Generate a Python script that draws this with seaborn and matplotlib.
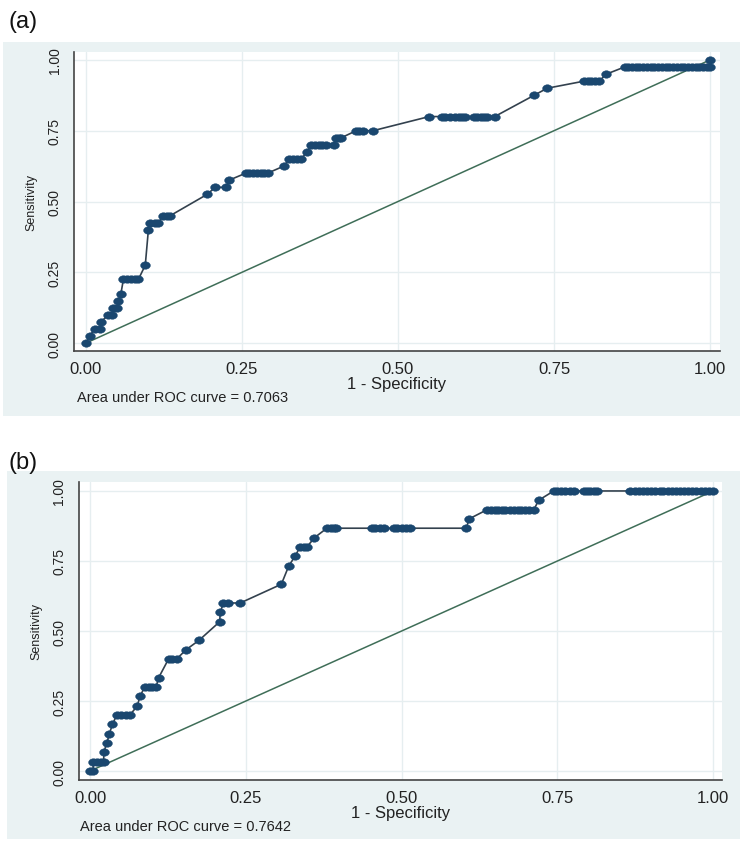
import matplotlib
matplotlib.use("Agg")
import matplotlib.pyplot as plt
from matplotlib.patches import Rectangle
from matplotlib.path import Path
from matplotlib.transforms import Affine2D
import seaborn as sns
import pandas as pd

# ROC points (1 - specificity, sensitivity)
fpr_a = [0.000, 0.006, 0.014, 0.022, 0.024, 0.036, 0.042, 0.044, 0.050, 0.052,
         0.056, 0.060, 0.066, 0.072, 0.078, 0.084, 0.095, 0.100, 0.102, 0.110,
         0.116, 0.124, 0.130, 0.135, 0.194, 0.207, 0.225, 0.229, 0.256, 0.262,
         0.268, 0.274, 0.280, 0.286, 0.291, 0.317, 0.326, 0.332, 0.338, 0.345,
         0.354, 0.361, 0.367, 0.373, 0.379, 0.385, 0.397, 0.401, 0.405, 0.409,
         0.433, 0.438, 0.444, 0.460, 0.550, 0.570, 0.576, 0.583, 0.591, 0.597,
         0.602, 0.607, 0.621, 0.627, 0.633, 0.638, 0.643, 0.655, 0.718, 0.739,
         0.798, 0.804, 0.810, 0.816, 0.822, 0.834,
         0.863, 0.869, 0.875, 0.881, 0.887, 0.893, 0.899, 0.905, 0.911, 0.917,
         0.923, 0.929, 0.935, 0.941, 0.947, 0.953, 0.959, 0.965, 0.971, 0.977,
         0.983, 0.989, 0.995, 1.000, 1.000]
sens_a = [0.000, 0.025, 0.050, 0.050, 0.075, 0.100, 0.100, 0.125, 0.125, 0.150,
          0.175, 0.225, 0.225, 0.225, 0.225, 0.225, 0.275, 0.400, 0.425, 0.425,
          0.425, 0.450, 0.450, 0.450, 0.525, 0.550, 0.550, 0.575, 0.600, 0.600,
          0.600, 0.600, 0.600, 0.600, 0.600, 0.625, 0.650, 0.650, 0.650, 0.650,
          0.675, 0.700, 0.700, 0.700, 0.700, 0.700, 0.700, 0.725, 0.725, 0.725,
          0.750, 0.750, 0.750, 0.750, 0.800, 0.800, 0.800, 0.800, 0.800, 0.800,
          0.800, 0.800, 0.800, 0.800, 0.800, 0.800, 0.800, 0.800, 0.875, 0.900,
          0.925, 0.925, 0.925, 0.925, 0.925, 0.950,
          0.975, 0.975, 0.975, 0.975, 0.975, 0.975, 0.975, 0.975, 0.975, 0.975,
          0.975, 0.975, 0.975, 0.975, 0.975, 0.975, 0.975, 0.975, 0.975, 0.975,
          0.975, 0.975, 0.975, 0.975, 1.000]

fpr_b = [0.000, 0.005, 0.005, 0.011, 0.017, 0.022, 0.022, 0.027, 0.031, 0.036,
         0.043, 0.050, 0.057, 0.064, 0.076, 0.080, 0.088, 0.094, 0.100, 0.106,
         0.110, 0.126, 0.132, 0.139, 0.154, 0.175, 0.208, 0.209, 0.214, 0.222,
         0.241, 0.307, 0.319, 0.329, 0.337, 0.343, 0.348, 0.360, 0.380, 0.386,
         0.391, 0.395, 0.452, 0.458, 0.465, 0.471, 0.487, 0.493, 0.500, 0.507,
         0.514, 0.604, 0.608, 0.637, 0.643, 0.649, 0.655, 0.661, 0.666, 0.674,
         0.680, 0.686, 0.692, 0.698, 0.704, 0.712, 0.720, 0.744, 0.750, 0.756,
         0.762, 0.770, 0.776, 0.792, 0.797, 0.803, 0.808, 0.813,
         0.867, 0.874, 0.881, 0.888, 0.894, 0.900, 0.907, 0.914, 0.920, 0.927,
         0.934, 0.940, 0.947, 0.953, 0.960, 0.966, 0.973, 0.980, 0.987, 0.993,
         1.000]
sens_b = [0.000, 0.000, 0.033, 0.033, 0.033, 0.033, 0.067, 0.100, 0.133, 0.167,
          0.200, 0.200, 0.200, 0.200, 0.233, 0.267, 0.300, 0.300, 0.300, 0.300,
          0.333, 0.400, 0.400, 0.400, 0.433, 0.467, 0.533, 0.567, 0.600, 0.600,
          0.600, 0.667, 0.733, 0.767, 0.800, 0.800, 0.800, 0.833, 0.867, 0.867,
          0.867, 0.867, 0.867, 0.867, 0.867, 0.867, 0.867, 0.867, 0.867, 0.867,
          0.867, 0.867, 0.900, 0.933, 0.933, 0.933, 0.933, 0.933, 0.933, 0.933,
          0.933, 0.933, 0.933, 0.933, 0.933, 0.933, 0.967, 1.000, 1.000, 1.000,
          1.000, 1.000, 1.000, 1.000, 1.000, 1.000, 1.000, 1.000,
          1.000, 1.000, 1.000, 1.000, 1.000, 1.000, 1.000, 1.000, 1.000, 1.000,
          1.000, 1.000, 1.000, 1.000, 1.000, 1.000, 1.000, 1.000, 1.000, 1.000,
          1.000]

ref_line = [0.0, 1.0]
ticks = [0.00, 0.25, 0.50, 0.75, 1.00]
tick_labels = ["0.00", "0.25", "0.50", "0.75", "1.00"]
panel_labels = ["(a)", "(b)"]
auc_labels = ["Area under ROC curve = 0.7063", "Area under ROC curve = 0.7642"]

sns.set_theme(style="white")
plt.rcParams['font.family'] = ['Liberation Sans', 'DejaVu Sans']

W, H = 748, 845
BG = '#eaf2f3'
NAVY = '#1a476f'
LINE = '#33414e'
DIAG = '#3f6e58'

# the source image is stretched sideways, so the dots are slightly oval
oval = Path.unit_circle().transformed(Affine2D().scale(1.3, 1.0))


def px_rect(left, top, right, bottom):
    return [left / W, 1 - bottom / H, (right - left) / W, (bottom - top) / H]


fig = plt.figure(figsize=(W / 100, H / 100), dpi=100)

# outer shaded boxes (Stata graph region)
boxes = [(3, 43, 740, 417), (7, 472, 740, 840)]
for (l, t, r, b) in boxes:
    fig.patches.append(Rectangle((l / W, 1 - b / H), (r - l) / W, (b - t) / H,
                                 transform=fig.transFigure, facecolor=BG,
                                 edgecolor='none', zorder=-10))

# axes geometry: (pixel rect, xlim, ylim)
layouts = [
    ((74, 53, 720, 352), (-0.0192, 1.016), (-0.028, 1.028)),
    ((79, 483, 722, 781), (-0.0177, 1.014), (-0.032, 1.032)),
]
series = [(fpr_a, sens_a), (fpr_b, sens_b)]
label_pos = [(8, 22), (8, 463)]
auc_pos = [(77, 398), (80, 827)]

for i, ((rect, xl, yl), (fx, sy)) in enumerate(zip(layouts, series)):
    ax = fig.add_axes(px_rect(*rect))
    ax.set_facecolor('white')
    df = pd.DataFrame({'fpr': fx, 'sens': sy})

    ax.plot(ref_line, ref_line, color=DIAG, lw=1.1, zorder=2)
    sns.lineplot(data=df, x='fpr', y='sens', ax=ax, color=LINE, lw=1.2,
                 estimator=None, sort=False, zorder=3)
    sns.scatterplot(data=df, x='fpr', y='sens', ax=ax, color=NAVY, s=50,
                    marker=oval, edgecolor=NAVY, linewidth=0.3, zorder=4)

    ax.set_xlim(*xl)
    ax.set_ylim(*yl)
    ax.set_xticks(ticks)
    ax.set_xticklabels(tick_labels, fontsize=12)
    ax.set_yticks(ticks)
    ax.set_yticklabels(tick_labels, fontsize=10, rotation=90, va='center')
    ax.grid(True, color='#e6eef0', lw=1.0)
    ax.set_axisbelow(True)
    for side in ['top', 'right']:
        ax.spines[side].set_visible(False)
    for side in ['left', 'bottom']:
        ax.spines[side].set_color('#444444')
        ax.spines[side].set_linewidth(1.2)
    ax.tick_params(axis='both', direction='out', length=5, width=1,
                   color='#444444', labelcolor='#222222', pad=2)
    ax.tick_params(axis='y', pad=4)
    ax.set_xlabel('1 - Specificity', fontsize=12, color='#222222', labelpad=0)
    ax.set_ylabel('Sensitivity', fontsize=9, color='#222222', labelpad=7)

    fig.text(label_pos[i][0] / W, 1 - label_pos[i][1] / H, panel_labels[i],
             fontsize=17, va='center', ha='left', color='#111111')
    fig.text(auc_pos[i][0] / W, 1 - auc_pos[i][1] / H, auc_labels[i],
             fontsize=10.5, va='center', ha='left', color='#222222')

fig.savefig('out.png', dpi=100, facecolor='white')
